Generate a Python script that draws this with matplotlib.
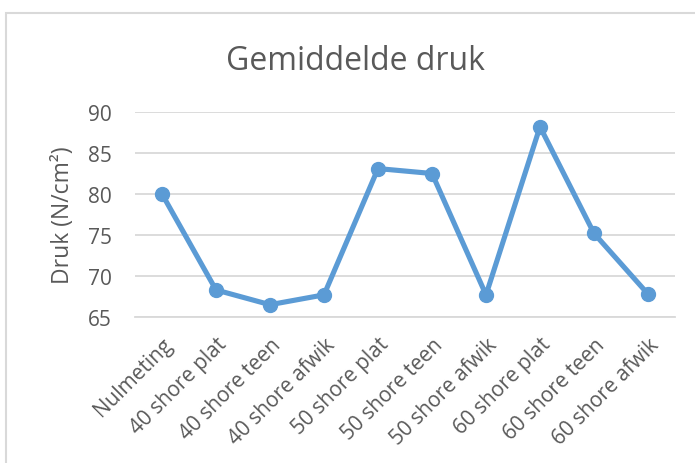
import matplotlib
matplotlib.use("Agg")
import matplotlib.pyplot as plt
from matplotlib.patches import Rectangle

categories = ["Nulmeting", "40 shore plat", "40 shore teen", "40 shore afwik",
              "50 shore plat", "50 shore teen", "50 shore afwik",
              "60 shore plat", "60 shore teen", "60 shore afwik"]
values = [80.0, 68.3, 66.5, 67.7, 83.1, 82.5, 67.7, 88.2, 75.2, 67.8]
yticks = [65, 70, 75, 80, 85, 90]

plt.rcParams['font.family'] = ['Open Sans', 'DejaVu Sans']
text_color = '#595959'
grid_color = '#D9D9D9'
line_color = '#5B9BD5'

W, H = 695, 464
fig = plt.figure(figsize=(W/100, H/100), dpi=100)
fig.patch.set_facecolor('white')

# chart border
fig.patches.append(Rectangle((5.5/W, -0.1), 1.2, 1 - 13.5/H + 0.1,
                             transform=fig.transFigure, fill=False,
                             edgecolor='#D9D9D9', linewidth=1.5))

left, right, top, bottom = 135, 675, 113, 318
ax = fig.add_axes([left/W, 1 - bottom/H, (right-left)/W, (bottom-top)/H])
x = list(range(len(categories)))
ax.plot(x, values, color=line_color, linewidth=3.7, marker='o',
        markersize=10, solid_joinstyle='round', zorder=3, clip_on=False)

ax.set_xlim(-0.5, len(categories) - 0.5)
ax.set_ylim(65, 90)
ax.set_yticks(yticks)
ax.set_xticks(x)
ax.set_xticklabels(categories, rotation=45, ha='right', va='top',
                   rotation_mode='anchor', fontsize=15, color=text_color)
ax.tick_params(axis='x', length=0, pad=12)
ax.tick_params(axis='y', length=0, pad=16.5, labelsize=15, labelcolor=text_color)
ax.grid(axis='y', color=grid_color, linewidth=1.3)
ax.set_axisbelow(True)
for s in ['top', 'right', 'left']:
    ax.spines[s].set_visible(False)
ax.spines['bottom'].set_color(grid_color)
ax.spines['bottom'].set_linewidth(1.3)

fig.text(63/W, 1 - 215/H, "Druk (N/cm²)", rotation=90, ha='center', va='center',
         fontsize=16.5, color=text_color)
fig.text(356/W, 1 - 61/H, "Gemiddelde druk", ha='center', va='center',
         fontsize=23, color=text_color)

fig.savefig("out.png", dpi=100)
